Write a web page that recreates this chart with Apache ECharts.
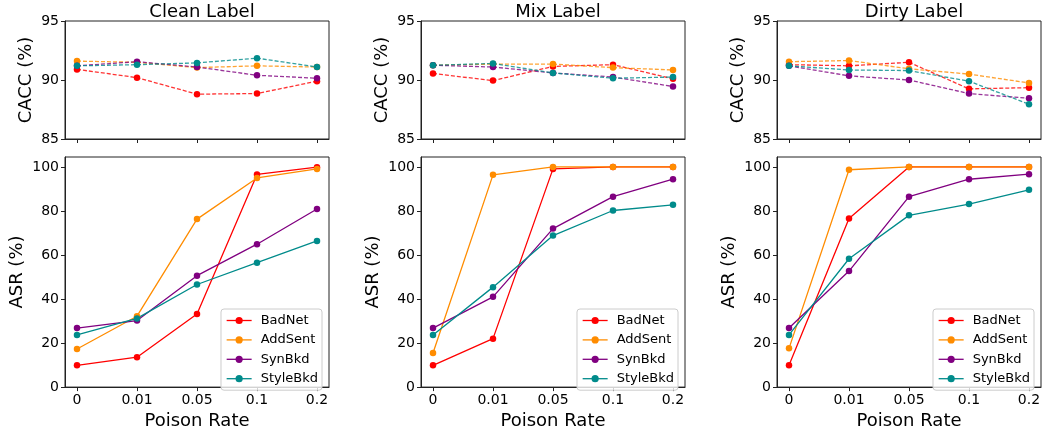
<!DOCTYPE html>
<html>
<head>
<meta charset="utf-8">
<script src="https://cdn.jsdelivr.net/npm/echarts@6/dist/echarts.min.js"></script>
<style>
    html, body { margin: 0; padding: 0; background: #fff; }
    #chart { width: 1044px; height: 435px; }
</style>
</head>
<body>
<div id="chart"></div>
<script>
const categories = ['0', '0.01', '0.05', '0.1', '0.2'];
const methods = ['BadNet', 'AddSent', 'SynBkd', 'StyleBkd'];
const panelTitles = ['Clean Label', 'Mix Label', 'Dirty Label'];
const caccTicks = [85, 90, 95];
const asrTicks = [0, 20, 40, 60, 80, 100];

// rows follow the order of methods
const cleanCacc = [
    [90.9, 90.2, 88.8, 88.85, 89.9],
    [91.6, 91.5, 91.05, 91.2, 91.1],
    [91.2, 91.55, 91.1, 90.4, 90.15],
    [91.2, 91.3, 91.45, 91.85, 91.1],
];
const mixCacc = [
    [90.55, 89.95, 91.15, 91.3, 90.1],
    [91.25, 91.35, 91.35, 91.05, 90.85],
    [91.25, 91.1, 90.6, 90.25, 89.45],
    [91.25, 91.4, 90.6, 90.15, 90.25],
];
const dirtyCacc = [
    [91.3, 91.2, 91.5, 89.25, 89.35],
    [91.55, 91.65, 90.95, 90.5, 89.75],
    [91.2, 90.35, 90.0, 88.85, 88.45],
    [91.2, 90.85, 90.8, 89.9, 87.95],
];
const cleanAsr = [
    [9.9, 13.6, 33.2, 96.6, 99.9],
    [17.3, 32.2, 76.3, 95.0, 99.1],
    [26.8, 30.2, 50.6, 64.9, 80.9],
    [23.7, 31.2, 46.6, 56.5, 66.4],
];
const mixAsr = [
    [9.9, 22.0, 99.1, 100, 100],
    [15.5, 96.4, 100, 100, 100],
    [26.8, 41.0, 72.0, 86.5, 94.4],
    [23.7, 45.4, 68.8, 80.2, 82.8],
];
const dirtyAsr = [
    [9.9, 76.6, 100, 100, 100],
    [17.6, 98.7, 100, 100, 100],
    [26.8, 52.7, 86.5, 94.4, 96.7],
    [23.7, 58.3, 78.0, 83.1, 89.6],
];

const colors = ['#ff0000', '#ff8c00', '#800080', '#008b8b'];
const font = 'DejaVu Sans';
const frameColor = '#222';

const chart = echarts.init(document.getElementById('chart'));

const gridLefts = [65, 421, 777];
const gridWidth = 264;
const topRow = { top: 21, height: 118 };
const bottomRow = { top: 157, height: 235 };

const grids = [];
const xAxes = [];
const yAxes = [];
const series = [];
const titles = [];
const legends = [];

const caccPanels = [cleanCacc, mixCacc, dirtyCacc];
const asrPanels = [cleanAsr, mixAsr, dirtyAsr];

const idxs = categories.map((c, i) => i);

function addPanel(col, row, values) {
    const isTop = row === 0;
    const rowBox = isTop ? topRow : bottomRow;
    const g = grids.length;
    grids.push({
        left: gridLefts[col],
        width: gridWidth,
        top: rowBox.top,
        height: rowBox.height,
        show: true,
        borderColor: frameColor,
        borderWidth: 1,
        backgroundColor: 'transparent',
    });
    xAxes.push({
        type: 'value',
        gridIndex: g,
        min: -0.2,
        max: 4.2,
        name: isTop ? '' : 'Poison Rate',
        nameLocation: 'middle',
        nameGap: 24,
        nameTextStyle: { fontFamily: font, fontSize: 18, color: '#000' },
        axisLine: { onZero: false, lineStyle: { color: frameColor } },
        axisTick: { show: true, customValues: idxs, length: 4, lineStyle: { color: frameColor } },
        axisLabel: {
            show: !isTop,
            customValues: idxs,
            margin: 6,
            fontFamily: font,
            fontSize: 14,
            color: '#000',
            formatter: (v) => categories[Math.round(v)],
        },
        splitLine: { show: false },
    });
    const ticks = isTop ? caccTicks : asrTicks;
    yAxes.push({
        type: 'value',
        gridIndex: g,
        min: isTop ? 85 : 0,
        max: isTop ? 95 : 104.5,
        name: isTop ? 'CACC (%)' : 'ASR (%)',
        nameLocation: 'middle',
        nameGap: isTop ? 30 : 39,
        nameTextStyle: { fontFamily: font, fontSize: 18, color: '#000' },
        axisLine: { show: true, onZero: false, lineStyle: { color: frameColor } },
        axisTick: { show: true, customValues: ticks, length: 4, lineStyle: { color: frameColor } },
        axisLabel: {
            customValues: ticks,
            margin: 6,
            fontFamily: font,
            fontSize: 14,
            color: '#000',
        },
        splitLine: { show: false },
    });
    values.forEach((vals, m) => {
        series.push({
            name: methods[m],
            type: 'line',
            xAxisIndex: g,
            yAxisIndex: g,
            data: vals.map((v, i) => [i, v]),
            symbol: 'circle',
            symbolSize: 6.5,
            showSymbol: true,
            animation: false,
            itemStyle: { color: colors[m] },
            lineStyle: {
                color: colors[m],
                width: 1.3,
                type: isTop ? [4, 2] : 'solid',
                opacity: isTop ? 0.8 : 1,
            },
            emphasis: { disabled: true },
        });
    });
    if (isTop) {
        titles.push({
            text: panelTitles[col],
            left: gridLefts[col] + gridWidth / 2,
            top: -2,
            textAlign: 'center',
            textStyle: { fontFamily: font, fontSize: 18, fontWeight: 'normal', color: '#000' },
        });
    } else {
        legends.push({
            data: methods,
            orient: 'vertical',
            right: 1044 - (gridLefts[col] + gridWidth) + 7,
            top: 309,
            padding: [5, 4, 5, 5],
            itemWidth: 25,
            itemHeight: 9,
            itemGap: 6.4,
            backgroundColor: 'rgba(255,255,255,0.8)',
            borderColor: '#ccc',
            borderWidth: 1,
            borderRadius: 3,
            selectedMode: false,
            lineStyle: { type: 'solid', width: 1.3, opacity: 1 },
            textStyle: { fontFamily: font, fontSize: 13, lineHeight: 12, color: '#000', padding: [0, 0, 0, 4] },
        });
    }
}

for (let c = 0; c < 3; c++) {
    addPanel(c, 0, caccPanels[c]);
    addPanel(c, 1, asrPanels[c]);
}

const option = {
    backgroundColor: '#fff',
    animation: false,
    title: titles,
    legend: legends,
    grid: grids,
    xAxis: xAxes,
    yAxis: yAxes,
    series: series,
};

chart.setOption(option);
</script>
</body>
</html>
